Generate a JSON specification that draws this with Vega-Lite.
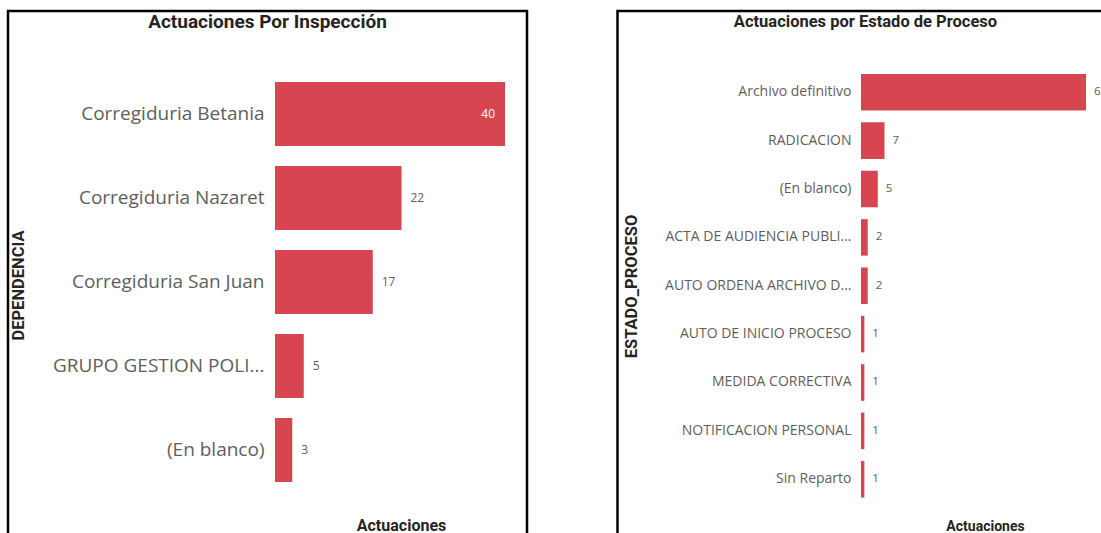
{
  "$schema": "https://vega.github.io/schema/vega-lite/v6.json",
  "padding": {"left": 6, "top": 9, "right": 0, "bottom": 0},
  "spacing": 86.5,
  "background": "white",
  "config": {
    "view": {"stroke": "#000000", "strokeWidth": 2.5},
    "title": {"font": "Roboto", "fontWeight": "bold", "color": "#252423", "anchor": "middle", "baseline": "alphabetic"},
    "axis": {"grid": false, "domain": false, "ticks": false, "titleFont": "Roboto", "titleFontWeight": "bold", "titleColor": "#252423", "labelColor": "#605E5C", "labelFont": "Open Sans"}
  },
  "datasets": {
    "insp": [
      {"DEPENDENCIA": "Corregiduria Betania", "Actuaciones": 40},
      {"DEPENDENCIA": "Corregiduria Nazaret", "Actuaciones": 22},
      {"DEPENDENCIA": "Corregiduria San Juan", "Actuaciones": 17},
      {"DEPENDENCIA": "GRUPO GESTION POLI...", "Actuaciones": 5},
      {"DEPENDENCIA": "(En blanco)", "Actuaciones": 3}
    ],
    "estado": [
      {"ESTADO_PROCESO": "Archivo definitivo", "Actuaciones": 67},
      {"ESTADO_PROCESO": "RADICACION", "Actuaciones": 7},
      {"ESTADO_PROCESO": "(En blanco)", "Actuaciones": 5},
      {"ESTADO_PROCESO": "ACTA DE AUDIENCIA PUBLI...", "Actuaciones": 2},
      {"ESTADO_PROCESO": "AUTO ORDENA ARCHIVO D...", "Actuaciones": 2},
      {"ESTADO_PROCESO": "AUTO DE INICIO PROCESO", "Actuaciones": 1},
      {"ESTADO_PROCESO": "MEDIDA CORRECTIVA", "Actuaciones": 1},
      {"ESTADO_PROCESO": "NOTIFICACION PERSONAL", "Actuaciones": 1},
      {"ESTADO_PROCESO": "Sin Reparto", "Actuaciones": 1}
    ]
  },
  "hconcat": [
    {
      "width": 519,
      "height": 530,
      "title": {"text": "Actuaciones Por Inspección", "fontSize": 19, "offset": -21},
      "data": {"name": "insp"},
      "encoding": {
        "y": {
          "field": "DEPENDENCIA", "type": "nominal",
          "sort": ["Corregiduria Betania", "Corregiduria Nazaret", "Corregiduria San Juan", "GRUPO GESTION POLI...", "(En blanco)"],
          "scale": {"range": [71, 471], "paddingInner": 0.238, "paddingOuter": 0},
          "axis": {"orient": "left", "offset": -267, "labelPadding": 11, "labelFontSize": 19, "labelLimit": 400,
                   "title": "DEPENDENCIA", "titleX": -257, "titleY": 274, "titleAngle": 270, "titleAlign": "center", "titleBaseline": "middle", "titleFontSize": 16.5}
        },
        "x": {
          "field": "Actuaciones", "type": "quantitative",
          "scale": {"domain": [0, 40], "range": [267, 497], "nice": false},
          "axis": {"labels": false, "title": "Actuaciones", "titleX": 393, "titleY": -10.5, "titleAlign": "center", "titleBaseline": "alphabetic", "titleFontSize": 16}
        }
      },
      "layer": [
        {"mark": {"type": "bar", "color": "#D64550"}},
        {"transform": [{"filter": "datum.Actuaciones >= 30"}],
         "mark": {"type": "text", "align": "right", "dx": -10, "color": "white", "fontSize": 12, "font": "Open Sans"},
         "encoding": {"text": {"field": "Actuaciones", "type": "quantitative"}}},
        {"transform": [{"filter": "datum.Actuaciones < 30"}],
         "mark": {"type": "text", "align": "left", "dx": 9, "color": "#605E5C", "fontSize": 12, "font": "Open Sans"},
         "encoding": {"text": {"field": "Actuaciones", "type": "quantitative"}}}
      ]
    },
    {
      "width": 486,
      "height": 530,
      "title": {"text": "Actuaciones por Estado de Proceso", "fontSize": 16.5, "offset": -19, "dx": 5},
      "data": {"name": "estado"},
      "encoding": {
        "y": {
          "field": "ESTADO_PROCESO", "type": "nominal",
          "sort": ["Archivo definitivo", "RADICACION", "(En blanco)", "ACTA DE AUDIENCIA PUBLI...", "AUTO ORDENA ARCHIVO D...", "AUTO DE INICIO PROCESO", "MEDIDA CORRECTIVA", "NOTIFICACION PERSONAL", "Sin Reparto"],
          "scale": {"range": [63, 486.5], "paddingInner": 0.245, "paddingOuter": 0},
          "axis": {"orient": "left", "offset": -243.5, "labelPadding": 10, "labelFontSize": 14, "labelLimit": 400,
                   "title": "ESTADO_PROCESO", "titleX": -230, "titleY": 275, "titleAngle": 270, "titleAlign": "center", "titleBaseline": "middle", "titleFontSize": 16.5}
        },
        "x": {
          "field": "Actuaciones", "type": "quantitative",
          "scale": {"domain": [0, 67], "range": [243.5, 468.5], "nice": false},
          "axis": {"labels": false, "title": "Actuaciones", "titleX": 367.5, "titleY": -10.5, "titleAlign": "center", "titleBaseline": "alphabetic", "titleFontSize": 14}
        }
      },
      "layer": [
        {"mark": {"type": "bar", "color": "#D64550"}},
        {"mark": {"type": "text", "align": "left", "dx": 8, "color": "#605E5C", "fontSize": 11.5, "font": "Open Sans"},
         "encoding": {"text": {"field": "Actuaciones", "type": "quantitative"}}}
      ]
    }
  ]
}
